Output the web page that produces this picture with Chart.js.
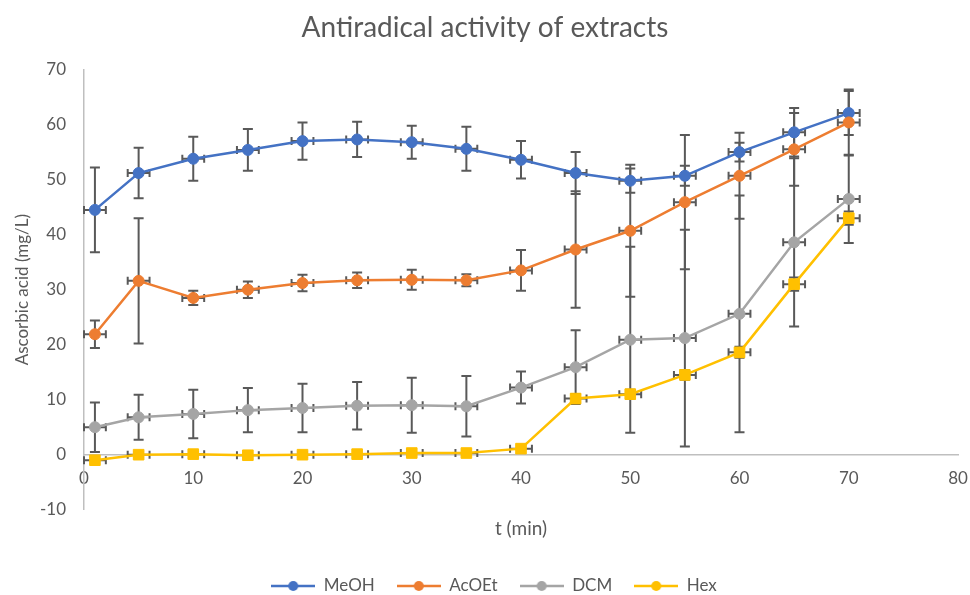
<!DOCTYPE html>
<html>
<head>
<meta charset="utf-8">
<title>Antiradical activity of extracts</title>
<script src="https://cdn.jsdelivr.net/npm/chart.js@4.4.1/dist/chart.umd.min.js"></script>
<style>
  html, body { margin: 0; padding: 0; background: #fff; }
  #wrap { width: 970px; height: 595px; }
</style>
</head>
<body>
<div id="wrap"><canvas id="activity-chart" width="970" height="595"></canvas></div>
<script>
// sampling times (min)
const times = [1, 5, 10, 15, 20, 25, 30, 35, 40, 45, 50, 55, 60, 65, 70];

// mean ascorbic acid equivalent (mg/L) and standard deviation per extract
const meoh    = [44.5, 51.2, 53.8, 55.4, 57.0, 57.3, 56.8, 55.6, 53.6, 51.2, 49.8, 50.7, 55.0, 58.6, 62.1];
const meohSd  = [7.7, 4.6, 4.0, 3.8, 3.4, 3.2, 3.0, 4.0, 3.4, 3.8, 2.2, 1.8, 1.7, 4.4, 4.0];
const acoet   = [21.9, 31.6, 28.5, 30.0, 31.2, 31.7, 31.8, 31.7, 33.5, 37.3, 40.7, 45.9, 50.7, 55.5, 60.4];
const acoetSd = [2.5, 11.4, 1.3, 1.5, 1.5, 1.4, 1.8, 1.1, 3.7, 10.6, 12.0, 12.2, 7.8, 6.6, 6.0];
const dcm     = [5.0, 6.8, 7.4, 8.1, 8.5, 8.9, 9.0, 8.8, 12.2, 15.9, 20.9, 21.2, 25.6, 38.6, 46.5];
const dcmSd   = [4.5, 4.1, 4.4, 4.0, 4.4, 4.3, 5.0, 5.5, 2.9, 6.7, 16.9, 19.7, 21.5, 15.3, 8.0];
const hex     = [-1.0, 0.0, 0.1, -0.1, 0.0, 0.1, 0.3, 0.3, 1.1, 10.2, 11.0, 14.5, 18.6, 31.0, 43.0];
const hexSd   = [0.6, 0.5, 0.5, 0.5, 0.5, 0.5, 0.5, 0.5, 0.6, 0.8, 0.8, 0.9, 1.0, 1.2, 1.2];
const timeSd  = 1; // horizontal error (min)

const TEXT = '#595959';
const AXIS = '#BFBFBF';
Chart.defaults.font.family = "Lato, 'Open Sans', sans-serif";
Chart.defaults.color = TEXT;

function toPoints(values) {
  return values.map((v, i) => ({ x: times[i], y: v }));
}

// little "line + dot" icon used in the legend
function legendIcon(color) {
  const c = document.createElement('canvas');
  c.width = 44;
  c.height = 14;
  const g = c.getContext('2d');
  g.strokeStyle = color;
  g.lineWidth = 2.5;
  g.beginPath();
  g.moveTo(0, 7);
  g.lineTo(44, 7);
  g.stroke();
  g.fillStyle = color;
  g.beginPath();
  g.arc(22, 7, 5, 0, Math.PI * 2);
  g.fill();
  return c;
}

// x/y error bars, drawn before the series so markers sit on top
const errorBars = {
  id: 'errorBars',
  beforeDatasetsDraw(chart) {
    const { ctx, scales: { x, y } } = chart;
    ctx.save();
    ctx.strokeStyle = TEXT;
    ctx.lineWidth = 2;
    chart.data.datasets.forEach((ds) => {
      ds.data.forEach((p, i) => {
        const cx = x.getPixelForValue(p.x);
        const cy = y.getPixelForValue(p.y);
        const top = y.getPixelForValue(p.y + ds.sd[i]);
        const bot = y.getPixelForValue(p.y - ds.sd[i]);
        const left = x.getPixelForValue(p.x - timeSd);
        const right = x.getPixelForValue(p.x + timeSd);
        ctx.beginPath();
        ctx.moveTo(cx, top); ctx.lineTo(cx, bot);
        ctx.moveTo(cx - 5, top); ctx.lineTo(cx + 5, top);
        ctx.moveTo(cx - 5, bot); ctx.lineTo(cx + 5, bot);
        ctx.moveTo(left, cy); ctx.lineTo(right, cy);
        ctx.moveTo(left, cy - 4); ctx.lineTo(left, cy + 4);
        ctx.moveTo(right, cy - 4); ctx.lineTo(right, cy + 4);
        ctx.stroke();
      });
    });
    ctx.restore();
  }
};

// nudge title and legend so they centre on the whole figure
const centreBlocks = {
  id: 'centreBlocks',
  afterLayout(chart) {
    chart.titleBlock.left += 6;
    chart.titleBlock.right += 6;
    chart.legend.left += 15;
    chart.legend.right += 15;
  }
};

function series(label, values, sd, color, order, pointStyle, radius) {
  return {
    label,
    data: toPoints(values),
    sd,
    order,
    borderColor: color,
    backgroundColor: color,
    borderWidth: 2.5,
    tension: 0,
    pointStyle,
    pointRadius: radius,
    pointBorderWidth: 1,
    pointBackgroundColor: color,
    pointBorderColor: color,
    legendIcon: legendIcon(color)
  };
}

const datasets = [
  series('MeOH', meoh, meohSd, '#4472C4', 4, 'circle', 5.5),
  series('AcOEt', acoet, acoetSd, '#ED7D31', 3, 'circle', 5.5),
  series('DCM', dcm, dcmSd, '#A5A5A5', 2, 'circle', 5.5),
  series('Hex', hex, hexSd, '#FFC000', 1, 'rect', 7.5)
];

new Chart(document.getElementById('activity-chart'), {
  type: 'line',
  data: { datasets },
  plugins: [errorBars, centreBlocks],
  options: {
    responsive: false,
    animation: false,
    devicePixelRatio: 1,
    layout: { padding: { left: 0, right: 12, top: 0, bottom: -9.5 } },
    plugins: {
      tooltip: { enabled: false },
      title: {
        display: true,
        text: 'Antiradical activity of extracts',
        color: TEXT,
        font: { size: 28, weight: 'normal' },
        padding: { top: 11, bottom: 25 }
      },
      legend: {
        position: 'bottom',
        labels: {
          usePointStyle: true,
          pointStyleWidth: 44,
          padding: 22,
          color: TEXT,
          font: { size: 17 },
          sort: (a, b) => a.datasetIndex - b.datasetIndex,
          generateLabels(chart) {
            const items = Chart.defaults.plugins.legend.labels.generateLabels(chart);
            items.forEach((it) => { it.pointStyle = chart.data.datasets[it.datasetIndex].legendIcon; });
            return items;
          }
        }
      }
    },
    scales: {
      x: {
        type: 'linear',
        position: { y: 0 },
        min: 0,
        max: 80,
        ticks: { stepSize: 10, font: { size: 17 }, padding: 14 },
        grid: { display: false, drawTicks: false },
        border: { color: AXIS, width: 1.5 },
        // the end labels may overhang the plot, no extra side padding
        afterFit(scale) {
          scale.paddingLeft = 0;
          scale.paddingRight = 0;
        }
      },
      x2: {
        type: 'linear',
        position: 'bottom',
        min: 0,
        max: 80,
        ticks: { display: false },
        grid: { display: false, drawTicks: false },
        border: { display: false },
        title: {
          display: true,
          text: 't (min)',
          font: { size: 19 },
          padding: { top: 8, bottom: 15 }
        }
      },
      y: {
        min: -10,
        max: 70,
        ticks: { stepSize: 10, font: { size: 17 }, padding: 18 },
        grid: { display: false, drawTicks: false },
        border: { color: AXIS, width: 1.5 },
        title: {
          display: true,
          text: 'Ascorbic acid (mg/L)',
          font: { size: 17 },
          padding: { top: 12, bottom: 0 }
        },
        afterFit(scale) { scale.width = 84; }
      }
    }
  }
});
</script>
</body>
</html>
